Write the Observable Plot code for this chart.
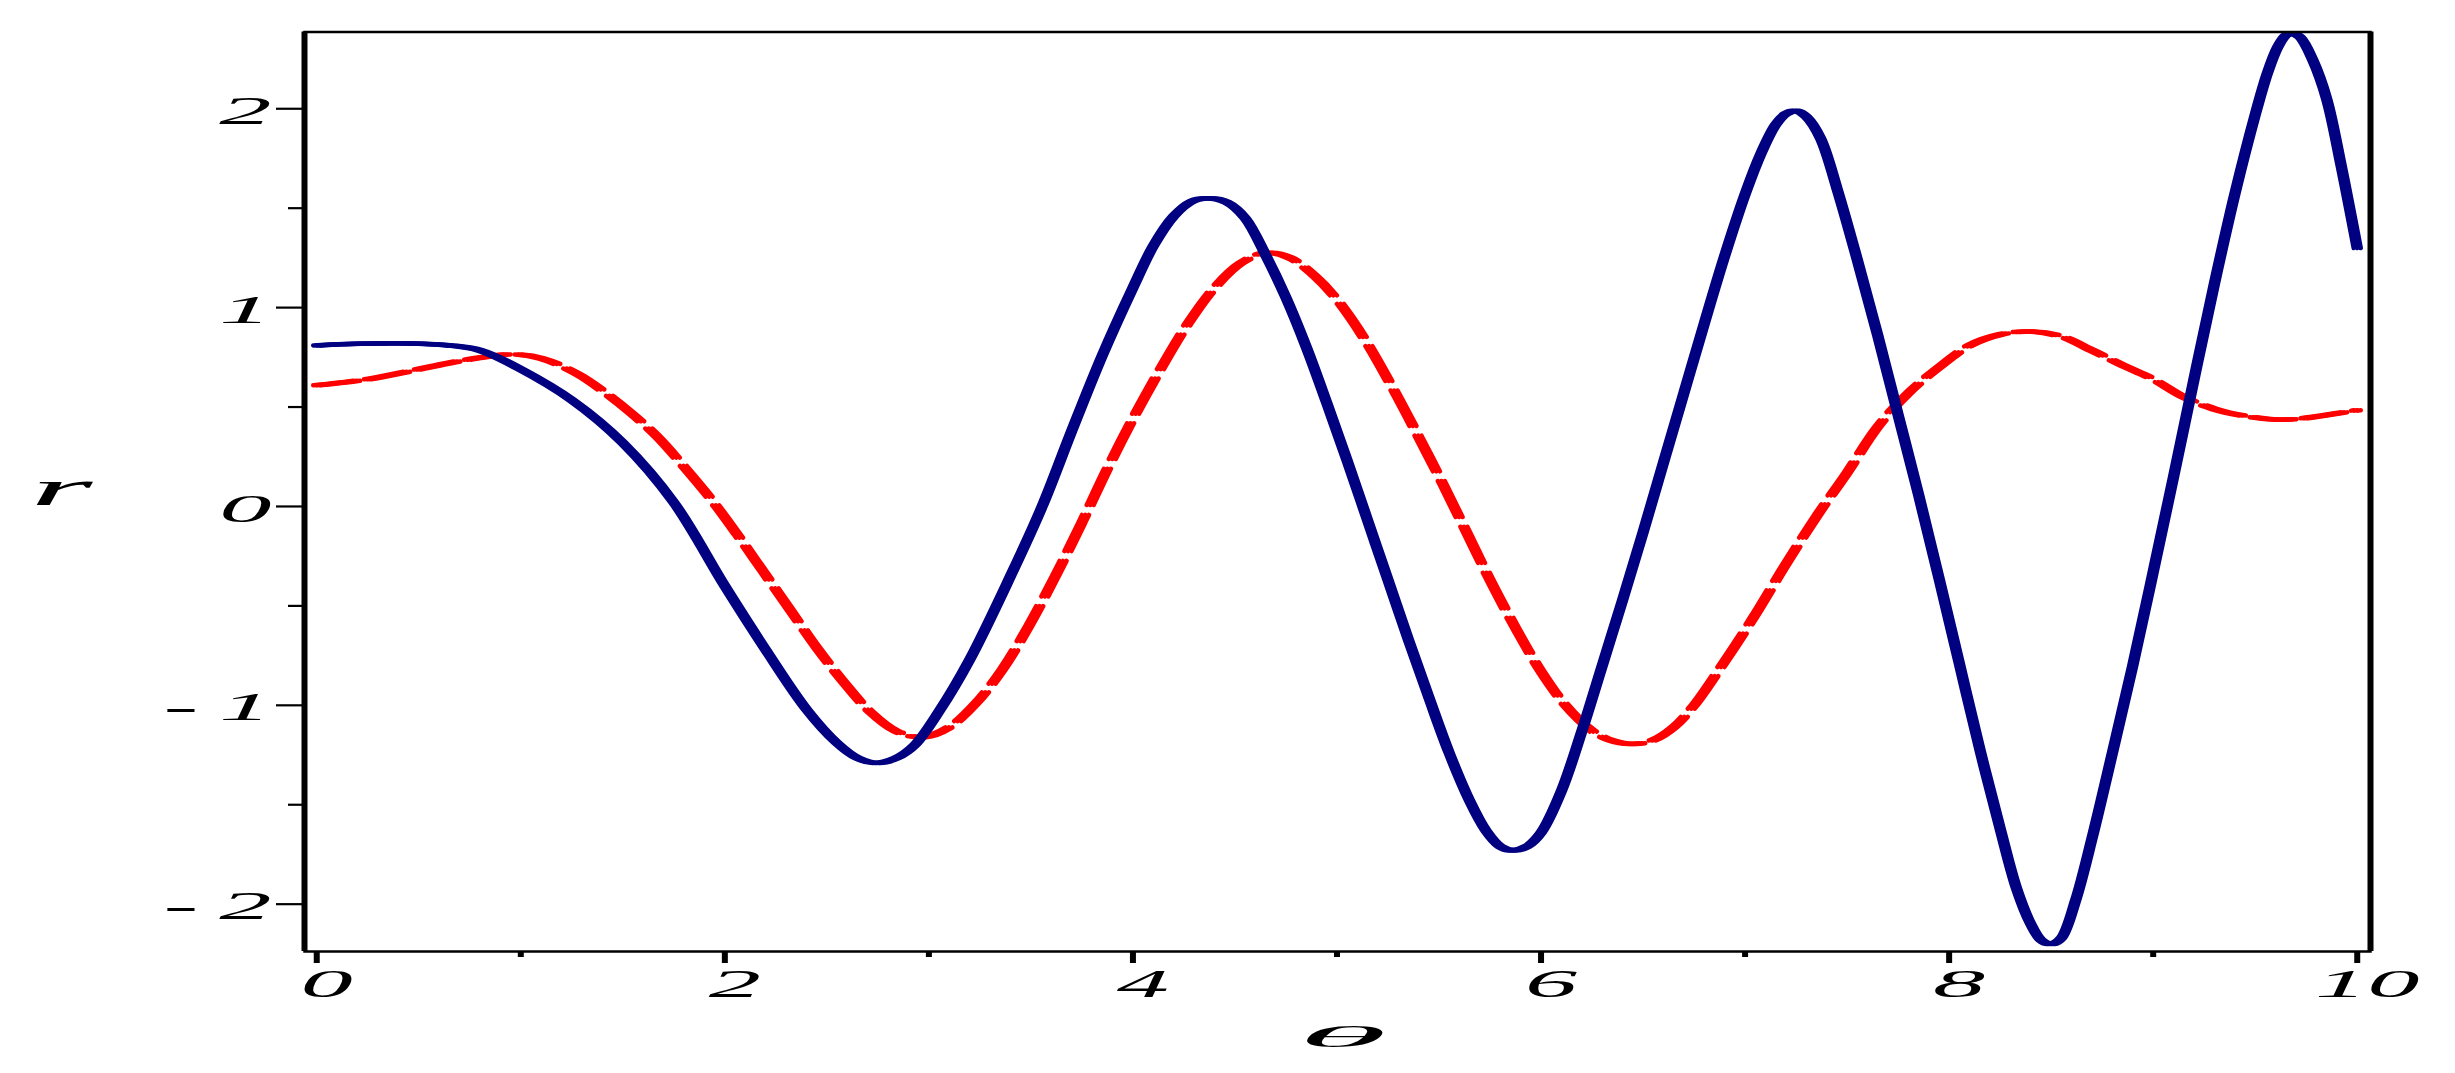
<!DOCTYPE html>
<html><head><meta charset="utf-8">
<script src="https://cdn.jsdelivr.net/npm/d3@7"></script>
<script src="https://cdn.jsdelivr.net/npm/@observablehq/plot@0.6"></script>
<style>html,body{margin:0;padding:0;background:#fff}#chart svg{display:block}</style>
</head><body><div id="chart"></div>
<script>
// ---- data ----
const blueX = [0,0.2,0.45,0.65,0.8,1.0,1.25,1.5,1.75,2.0,2.2,2.4,2.55,2.65,2.74,2.84,2.93,3.05,3.2,3.4,3.555,3.7,3.85,4.0,4.1,4.2,4.29,4.367,4.46,4.55,4.65,4.75,4.85,4.95,5.05,5.15,5.25,5.35,5.45,5.55,5.65,5.73,5.8,5.86,5.93,6.0,6.1,6.2,6.3,6.4,6.5,6.6,6.7,6.8,6.9,7.0,7.08,7.15,7.2,7.25,7.3,7.37,7.45,7.55,7.65,7.75,7.85,7.95,8.05,8.15,8.25,8.33,8.4,8.45,8.5,8.55,8.62,8.7,8.8,8.9,9.0,9.1,9.2,9.3,9.4,9.5,9.56,9.61,9.65,9.68,9.72,9.78,9.85,9.92,10.0];
const blueY = [0.81,0.818,0.82,0.81,0.785,0.69,0.535,0.32,0.02,-0.40,-0.72,-1.02,-1.19,-1.265,-1.29,-1.265,-1.2,-1.03,-0.77,-0.35,0.0,0.38,0.76,1.1,1.31,1.46,1.535,1.55,1.53,1.45,1.265,1.05,0.80,0.52,0.23,-0.07,-0.37,-0.67,-0.96,-1.24,-1.48,-1.63,-1.71,-1.73,-1.71,-1.64,-1.43,-1.13,-0.80,-0.47,-0.13,0.22,0.57,0.92,1.26,1.57,1.78,1.92,1.975,1.99,1.96,1.85,1.6,1.24,0.86,0.46,0.06,-0.36,-0.79,-1.22,-1.62,-1.92,-2.1,-2.18,-2.2,-2.17,-1.98,-1.67,-1.24,-0.8,-0.33,0.15,0.64,1.12,1.57,1.97,2.18,2.31,2.37,2.38,2.36,2.25,2.05,1.72,1.3];
const redX = [0,0.25,0.5,0.75,0.95,1.1,1.28,1.41,1.54,1.67,1.8,1.93,2.06,2.19,2.32,2.45,2.58,2.71,2.84,2.97,3.1,3.23,3.36,3.49,3.62,3.75,3.88,4.01,4.14,4.27,4.4,4.53,4.65,4.77,4.89,5.0,5.13,5.26,5.39,5.52,5.64,5.76,5.88,6.0,6.12,6.24,6.34,6.45,6.55,6.65,6.75,6.88,7.04,7.2,7.35,7.5,7.65,7.8,7.95,8.1,8.25,8.4,8.55,8.7,8.85,9.0,9.15,9.3,9.45,9.6,9.72,9.85,10.0];
const redY = [0.609,0.64,0.69,0.74,0.765,0.745,0.665,0.575,0.47,0.35,0.2,0.04,-0.14,-0.33,-0.52,-0.71,-0.88,-1.03,-1.13,-1.16,-1.11,-0.99,-0.82,-0.6,-0.35,-0.08,0.2,0.46,0.7,0.92,1.1,1.225,1.275,1.25,1.16,1.04,0.85,0.62,0.37,0.11,-0.14,-0.39,-0.62,-0.83,-1.0,-1.12,-1.175,-1.194,-1.175,-1.11,-1.0,-0.81,-0.56,-0.29,-0.05,0.17,0.4,0.57,0.70,0.81,0.865,0.88,0.855,0.785,0.71,0.64,0.55,0.49,0.455,0.437,0.442,0.46,0.484];

const xDomain = [-0.06, 10.065];
const yDomain = [-2.238, 2.386];
const xMajorTicks = [0, 2, 4, 6, 8, 10];
const xMinorTicks = [1, 3, 5, 7, 9];
const yMajorTicks = [-2, -1, 0, 1, 2];
const yMinorTicks = [-1.5, -0.5, 0.5, 1.5];
const xTitle = "\u03B8";
const yTitle = "r";

const blue = blueX.map((x, i) => ({x, y: blueY[i]}));
const red = redX.map((x, i) => ({x, y: redY[i]}));

// a line drawn a few times side by side gives the thick-when-steep look of the original
const thick = (data, opts) => [-3.5, 0, 3.5].map(dx => Plot.line(data, {x: "x", y: "y", dx, curve: "catmull-rom", ...opts}));

const labelFont = {fontFamily: "Liberation Serif", fontStyle: "italic", fontSize: 41, fill: "#000"};
const fmt = d => d < 0 ? "-\u2009" + Math.abs(d) : String(d);

const plot = Plot.plot({
  width: 2455, height: 1073,
  marginLeft: 304, marginRight: 85, marginTop: 31.5, marginBottom: 122,
  x: {domain: xDomain, axis: null},
  y: {domain: yDomain, axis: null},
  style: {background: "#fff", overflow: "visible"},
  marks: [
    ...thick(red, {stroke: "#ff0000", strokeWidth: 4.5, strokeDasharray: "40,11"}),
    ...thick(blue, {stroke: "#000080", strokeWidth: 4.5}),
    Plot.frame({stroke: "#000", strokeWidth: 2.5}),
    Plot.ruleX([xDomain[0], xDomain[1]], {stroke: "#000", strokeWidth: 6}),
    Plot.axisX(xMajorTicks, {anchor: "bottom", tickSize: 12, strokeWidth: 6, tickFormat: () => "", label: null}),
    Plot.axisX(xMinorTicks, {anchor: "bottom", tickSize: 6, strokeWidth: 6, tickFormat: () => "", label: null}),
    Plot.axisY(yMajorTicks, {anchor: "left", tickSize: 28, strokeWidth: 2.2, tickFormat: () => "", label: null}),
    Plot.axisY(yMinorTicks, {anchor: "left", tickSize: 16, strokeWidth: 2.2, tickFormat: () => "", label: null}),
    Plot.text(xMajorTicks, {x: d => d, frameAnchor: "bottom", dy: 32, dx: 10, text: d => fmt(d), lineAnchor: "middle", textAnchor: "middle", ...labelFont}),
    Plot.text(yMajorTicks, {y: d => d, frameAnchor: "left", dx: -33, dy: 2, text: d => fmt(d), lineAnchor: "middle", textAnchor: "end", ...labelFont}),
    Plot.text([xTitle], {frameAnchor: "bottom", dy: 86, dx: 5, text: d => d, lineAnchor: "middle", textAnchor: "middle", ...labelFont, fontSize: 29}),
    Plot.text([yTitle], {frameAnchor: "left", dx: -243, dy: -3, text: d => d, lineAnchor: "middle", textAnchor: "middle", ...labelFont, fontSize: 50})
  ]
});

// the original's lettering is stretched sideways
d3.select(plot).selectAll("text").each(function () {
  const t = this.textContent;
  if (!t.trim()) return;
  const sx = t === xTitle ? 6.2 : t === yTitle ? 3.2 : 2.55;
  const tr = this.getAttribute("transform");
  if (tr) {
    this.setAttribute("transform", tr + ` scale(${sx},1)`);
  } else {
    const x = +this.getAttribute("x") || 0, y = +this.getAttribute("y") || 0;
    this.removeAttribute("x"); this.removeAttribute("y");
    this.setAttribute("transform", `translate(${x},${y}) scale(${sx},1)`);
  }
});

document.getElementById("chart").appendChild(plot);
</script>
</body></html>
